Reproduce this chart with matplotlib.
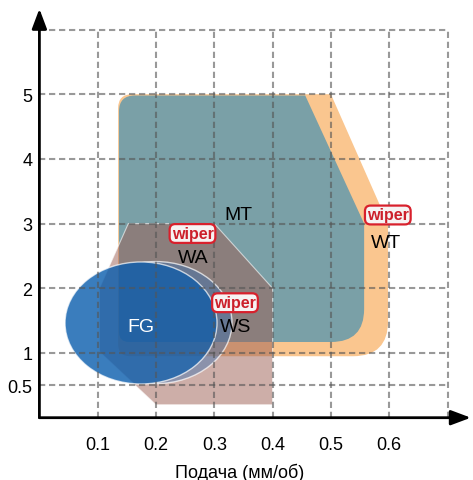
import numpy as np
import matplotlib
matplotlib.use("Agg")
import matplotlib.pyplot as plt
from matplotlib.path import Path
from matplotlib.patches import PathPatch, Ellipse

plt.rcParams['font.family'] = ['Liberation Sans', 'DejaVu Sans']

# data
x_ticks = [0.1, 0.2, 0.3, 0.4, 0.5, 0.6]
y_ticks = [0.5, 1, 2, 3, 4, 5]
y_ticklabels = ["0.5", "1", "2", "3", "4", "5"]
grid_x = [0.1, 0.2, 0.3, 0.4, 0.5, 0.6, 0.7]
grid_y = [0.5, 1, 2, 3, 4, 5, 6]

wt_x = [0.135, 0.50, 0.598, 0.598, 0.135]
wt_y = [5.0, 5.0, 3.0, 0.95, 0.95]
mt_x = [0.1365, 0.456, 0.557, 0.557, 0.1365]
mt_y = [4.98, 4.98, 3.0, 1.17, 1.17]
wa_x = [0.1525, 0.30, 0.40, 0.40, 0.20, 0.103, 0.103]
wa_y = [3.0, 3.0, 2.0, 0.2, 0.2, 1.02, 2.0]
fg_center = (0.1743, 1.464)
fg_size = (0.2607, 1.886)
ws_center = (0.2, 1.47)

labels = ["MT", "WA", "WS", "WT", "FG"]
label_x = [0.3412, 0.264, 0.3372, 0.5945, 0.1743]
label_y = [3.148, 2.48, 1.413, 2.71, 1.413]
wiper_x = [0.2626, 0.3355, 0.5976]
wiper_y = [2.847, 1.777, 3.133]

fig = plt.figure(figsize=(4.73, 4.81), dpi=100)
ax = fig.add_axes([39.4 / 473, 62.3 / 481, 0.74 * 583 / 473, 6.32 * 64.7 / 481])
ax.set_xlim(0, 0.74)
ax.set_ylim(0, 6.32)
for s in ax.spines.values():
    s.set_visible(False)


def rounded_path(xs, ys, radii):
    # corners rounded in pixel space so the radius looks the same on both axes
    pts = ax.transData.transform(np.column_stack([xs, ys]))
    n = len(pts)
    verts, codes = [], []
    for i in range(n):
        p = pts[i]
        prev = pts[i - 1]
        nxt = pts[(i + 1) % n]
        r = radii[i]
        if r > 0:
            d1 = (prev - p) / np.linalg.norm(prev - p)
            d2 = (nxt - p) / np.linalg.norm(nxt - p)
            verts += [p + d1 * r, p, p + d2 * r]
            codes += [Path.LINETO, Path.CURVE3, Path.CURVE3]
        else:
            verts.append(p)
            codes.append(Path.LINETO)
    codes[0] = Path.MOVETO
    verts.append(verts[0])
    codes.append(Path.CLOSEPOLY)
    return Path(ax.transData.inverted().transform(np.array(verts)), codes)


ax.add_patch(PathPatch(rounded_path(wt_x, wt_y, [14, 0, 0, 35, 12]),
                       fc='#fac68f', ec='none', zorder=1))
ax.add_patch(PathPatch(rounded_path(mt_x, mt_y, [16, 0, 0, 33, 10]),
                       fc='#7aa0a7', ec='none', zorder=2))
ax.add_patch(PathPatch(rounded_path(wa_x, wa_y, [0] * 7),
                       fc=(0.61, 0.37, 0.32, 0.5), ec=(1, 1, 1, 0.6), lw=0.8, zorder=3))

# WS ellipse only shows outside FG: clip = big box minus FG ellipse
t = np.linspace(0, 2 * np.pi, 300)[::-1]
fg_outline = np.column_stack([fg_center[0] + fg_size[0] / 2 * np.cos(t),
                              fg_center[1] + fg_size[1] / 2 * np.sin(t)])
box = Path([(-1, -1), (2, -1), (2, 8), (-1, 8), (-1, -1)])
clip = Path.make_compound_path(box, Path(fg_outline))
ws = Ellipse(ws_center, fg_size[0], fg_size[1],
             fc=(0.23, 0.44, 0.69, 0.45), ec=(1, 1, 1, 0.7), lw=1.0, zorder=4)
ax.add_patch(ws)
ws.set_clip_path(clip, ax.transData)

ax.add_patch(Ellipse(fg_center, fg_size[0], fg_size[1],
                     fc=(0.035, 0.36, 0.68, 0.8), ec=(1, 1, 1, 0.7), lw=1.0, zorder=5))

# dashed grid
ax.vlines(grid_x, 0, 6, colors='#555555', alpha=0.6, lw=1.5,
          linestyles=(0, (3, 1.8)), zorder=6)
ax.hlines(grid_y, 0, 0.7, colors='#555555', alpha=0.6, lw=1.5,
          linestyles=(0, (3, 1.8)), zorder=6)

# axes with arrows
arr = dict(arrowstyle='-|>,head_length=0.8,head_width=0.3', lw=2, color='k',
           mutation_scale=15, shrinkA=0, shrinkB=0)
ax.annotate('', xy=(0.74, 0), xytext=(0, 0), arrowprops=arr, annotation_clip=False, zorder=7)
ax.annotate('', xy=(0, 6.32), xytext=(0, 0), arrowprops=arr, annotation_clip=False, zorder=7)

for i, lab in enumerate(labels):
    ax.text(label_x[i], label_y[i], lab, fontsize=14, ha='center', va='center',
            color='white' if lab == "FG" else 'black', zorder=9)

for i in range(len(wiper_x)):
    ax.text(wiper_x[i], wiper_y[i], "wiper", fontsize=11.5, fontweight='bold',
            color='#cc1f2a', ha='center', va='center', zorder=9,
            bbox=dict(boxstyle='round,pad=0.12,rounding_size=0.35',
                      fc='#f6f3f3', ec='#d8202c', lw=1.6))

ax.set_xticks(x_ticks)
ax.set_xticklabels([str(v) for v in x_ticks])
ax.set_yticks(y_ticks)
ax.set_yticklabels(y_ticklabels)
ax.tick_params(axis='x', length=0, pad=13, labelsize=13)
ax.tick_params(axis='y', length=0, pad=5, labelsize=13)
ax.set_xlabel("Подача (мм/об)", fontsize=13)
ax.xaxis.set_label_coords(0.465, -0.11)

fig.savefig("out.png", dpi=100)
